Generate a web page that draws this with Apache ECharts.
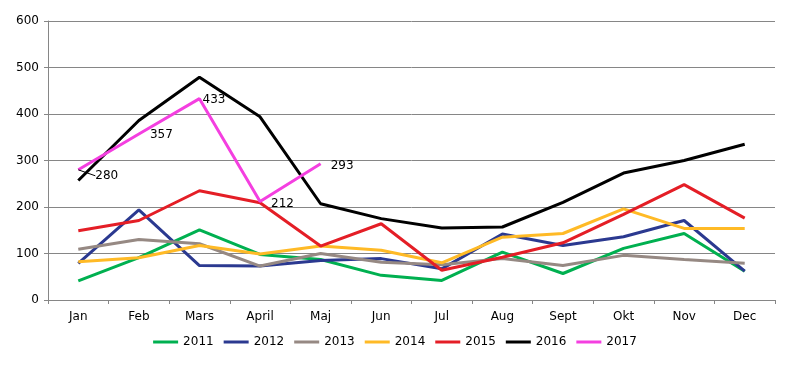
<!DOCTYPE html>
<html><head><meta charset="utf-8">
<script src="https://cdn.jsdelivr.net/npm/echarts@6/dist/echarts.min.js"></script>
<style>html,body{margin:0;padding:0;background:#fff}#c{width:790px;height:373px}</style>
</head><body><div id="c"></div>
<script>
const months = ['Jan','Feb','Mars','April','Maj','Jun','Jul','Aug','Sept','Okt','Nov','Dec'];
const yTicks = [0,100,200,300,400,500,600];
const s2011 = [41,91,151,98,87,53,42,103,57,111,143,62];
const s2012 = [79,194,74,73,85,89,67,142,117,136,171,62];
const s2013 = [109,130,121,73,100,81,76,89,74,96,87,79];
const s2014 = [82,91,117,99,116,107,80,135,143,196,154,154];
const s2015 = [149,171,235,209,116,164,64,92,123,184,248,176];
const s2016 = [257,386,479,394,207,175,155,157,210,273,300,335];
const s2017 = [280,357,433,212,293];
const seriesNames = ['2011','2012','2013','2014','2015','2016','2017'];
const seriesData = [s2011,s2012,s2013,s2014,s2015,s2016,s2017];
const colors = ['#00B050','#2B3990','#968983','#FFBA26','#E41E26','#000000','#F43FE0'];
const labelShift = [[17,6],[11,1],[3,1],[11,2],[10,2]];

const font = 'DejaVu Sans';
const chart = echarts.init(document.getElementById('c'));
const series = seriesNames.map((n,i)=>{
  const isLast = i===6;
  return {
    name:n, type:'line', smooth:false,
    data: isLast ? seriesData[i].map((v,k)=>({value:v,labelLine:{show:k===0}})) : seriesData[i],
    symbol: isLast ? 'circle' : 'none', symbolSize: isLast ? 0.1 : 4, showSymbol:isLast,
    lineStyle:{width:3,color:colors[i]}, itemStyle:{color:colors[i]},
    label: isLast ? {show:true, position:'right', distance:0, color:'#000', fontFamily:font, fontSize:12} : {show:false},
    labelLine: isLast ? {show:false, lineStyle:{color:'#000',width:1}} : undefined,
    labelLayout: isLast ? (p => ({dx:labelShift[p.dataIndex][0], dy:labelShift[p.dataIndex][1]})) : undefined,
    z: 2+i
  };
});
chart.setOption({
  animation:false,
  color:colors,
  grid:{left:48,right:15,top:21,bottom:73},
  legend:{bottom:20,left:'center',itemWidth:25,itemHeight:3,itemGap:10,icon:'rect',
    textStyle:{fontFamily:font,fontSize:12,color:'#000'},
    data:seriesNames},
  xAxis:{type:'category',data:months,boundaryGap:true,
    axisLine:{lineStyle:{color:'#868686',width:1}},
    axisTick:{show:true,length:4,lineStyle:{color:'#868686'}},
    axisLabel:{fontFamily:font,fontSize:12,color:'#000',margin:11}},
  yAxis:{type:'value',min:0,max:600,interval:100,
    axisLine:{show:true,lineStyle:{color:'#868686',width:1}},
    axisTick:{show:true,length:4,lineStyle:{color:'#868686'}},
    splitLine:{lineStyle:{color:'#868686',width:1}},
    axisLabel:{fontFamily:font,fontSize:12,color:'#000',margin:9,
      formatter:v=>yTicks.includes(v)?String(v):''}},
  series
});
</script></body></html>
